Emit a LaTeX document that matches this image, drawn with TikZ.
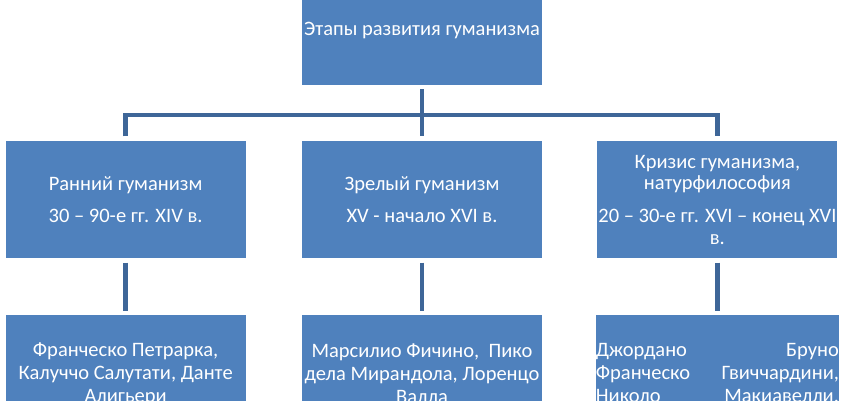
\documentclass[tikz,border=0pt]{standalone}
\usepackage{fontspec}
\setmainfont{Carlito}
\usetikzlibrary{positioning}

\definecolor{boxblue}{RGB}{79,129,189}
\definecolor{linkblue}{RGB}{62,102,152}
\newcommand{\spreadline}[2]{\hbox to 243pt{#1\hfill #2}}

\begin{document}
\begin{tikzpicture}[x=1pt, y=-1pt,
  stage/.style = {fill=boxblue, text=white, minimum width=240pt, minimum height=117pt,
    inner sep=0pt, align=center, font=\fontsize{20.5}{23}\selectfont},
  link/.style = {draw=linkblue, line width=4.5pt, shorten <=4.5pt, shorten >=4.5pt}]
\useasboundingbox (0,0) rectangle (844,400);
\clip (0,0) rectangle (844,400);

\node[stage] (mature) at (422,199.5) {Зрелый гуманизм\\[9pt] XV - начало XVI в.};
\node[stage] (early) [left=56pt of mature] {Ранний гуманизм\\[9pt] 30 – 90-е гг. XIV в.};
\node[stage] (crisis) [right=55pt of mature] {Кризис гуманизма,\\[-1.5pt] натурфилософия\\[10pt] 20 – 30-е гг. XVI – конец XVI\\[-1.5pt] в.};
\node[stage] (top) [above=56pt of mature, minimum height=108pt] {Этапы развития гуманизма};
\node[stage] (earlyppl) [below=57pt of early] {Франческо Петрарка,\\ Калуччо Салутати, Данте\\ Алигьери};
\node[stage] (matureppl) [below=57pt of mature] {Марсилио Фичино,\ \ Пико\\ дела Мирандола, Лоренцо\\ Валла};
\node[stage] (crisisppl) [below=57pt of crisis] {\spreadline{Джордано}{Бруно}\\ \spreadline{Франческо}{Гвиччардини,}\\ \spreadline{Николо}{Макиавелли,}};
\coordinate [below=30pt of top] (bar);

% tree
\draw[link] (top) -- (mature);
\draw[link] (early) -- (early |- bar) -- (crisis |- bar) -- (crisis);
\draw[link] (early) -- (earlyppl);
\draw[link] (mature) -- (matureppl);
\draw[link] (crisis) -- (crisisppl);
\end{tikzpicture}
\end{document}
